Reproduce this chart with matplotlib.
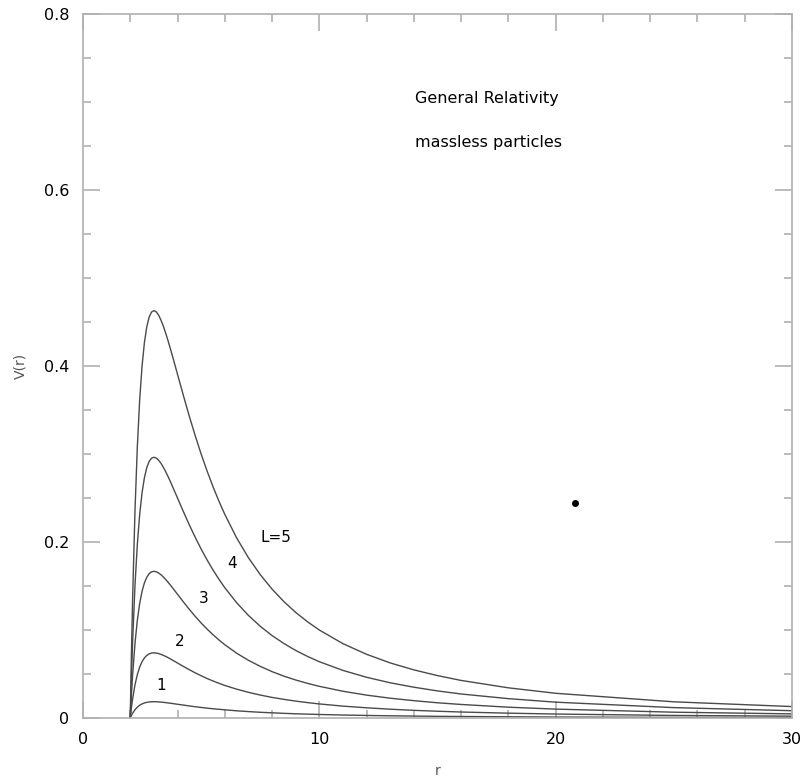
import matplotlib
matplotlib.use("Agg")
import matplotlib.pyplot as plt
from matplotlib.ticker import MultipleLocator

# radio r y potencial efectivo V(r), para cada L
r = [2.0, 2.05, 2.1, 2.2, 2.3, 2.4, 2.5, 2.6, 2.7, 2.8, 2.9, 3.0, 3.1, 3.2, 3.3,
     3.4, 3.5, 3.6, 3.7, 3.8, 4.0, 4.25, 4.5, 4.75, 5.0, 5.25, 5.5, 5.75, 6.0,
     6.5, 7.0, 7.5, 8.0, 8.5, 9.0, 9.5, 10, 11, 12, 13, 14, 15, 16, 18, 20, 25, 30]

v_L1 = [0, 0.0029, 0.0054, 0.0094, 0.0123, 0.0145, 0.0160, 0.0171, 0.0178, 0.0182,
        0.0185, 0.0185, 0.0185, 0.0183, 0.0181, 0.0178, 0.0175, 0.0171, 0.0168,
        0.0164, 0.0156, 0.0147, 0.0137, 0.0128, 0.0120, 0.0112, 0.0105, 0.0099,
        0.0093, 0.0082, 0.0073, 0.0065, 0.0059, 0.0053, 0.0048, 0.0044, 0.0040,
        0.0034, 0.0029, 0.0025, 0.0022, 0.0019, 0.0017, 0.0014, 0.0011, 0.0007, 0.0005]
v_L2 = [0, 0.0116, 0.0216, 0.0376, 0.0493, 0.0579, 0.0640, 0.0683, 0.0711, 0.0729,
        0.0738, 0.0741, 0.0738, 0.0732, 0.0723, 0.0712, 0.0700, 0.0686, 0.0671,
        0.0656, 0.0625, 0.0586, 0.0549, 0.0513, 0.0480, 0.0449, 0.0421, 0.0395,
        0.0370, 0.0328, 0.0292, 0.0261, 0.0234, 0.0212, 0.0192, 0.0175, 0.0160,
        0.0135, 0.0116, 0.0100, 0.0087, 0.0077, 0.0068, 0.0055, 0.0045, 0.0029, 0.0021]
v_L3 = [0, 0.0261, 0.0486, 0.0845, 0.1110, 0.1302, 0.1440, 0.1536, 0.1600, 0.1640,
        0.1661, 0.1667, 0.1662, 0.1648, 0.1628, 0.1603, 0.1574, 0.1543, 0.1510,
        0.1476, 0.1406, 0.1319, 0.1235, 0.1155, 0.1080, 0.1011, 0.0947, 0.0888,
        0.0833, 0.0737, 0.0656, 0.0587, 0.0527, 0.0476, 0.0432, 0.0394, 0.0360,
        0.0304, 0.0260, 0.0225, 0.0197, 0.0173, 0.0154, 0.0123, 0.0101, 0.0066, 0.0047]
v_L4 = [0, 0.0464, 0.0864, 0.1503, 0.1973, 0.2315, 0.2560, 0.2731, 0.2845, 0.2916,
        0.2952, 0.2963, 0.2954, 0.2930, 0.2894, 0.2850, 0.2799, 0.2744, 0.2685,
        0.2624, 0.2500, 0.2345, 0.2195, 0.2053, 0.1920, 0.1797, 0.1683, 0.1578,
        0.1481, 0.1311, 0.1166, 0.1043, 0.0937, 0.0847, 0.0768, 0.0700, 0.0640,
        0.0541, 0.0463, 0.0400, 0.0350, 0.0308, 0.0273, 0.0220, 0.0180, 0.0118, 0.0083]
v_L5 = [0, 0.0726, 0.1350, 0.2348, 0.3082, 0.3617, 0.4000, 0.4267, 0.4446, 0.4556,
        0.4613, 0.4630, 0.4616, 0.4578, 0.4522, 0.4453, 0.4373, 0.4287, 0.4195,
        0.4101, 0.3906, 0.3664, 0.3429, 0.3208, 0.3000, 0.2808, 0.2630, 0.2466,
        0.2315, 0.2048, 0.1822, 0.1630, 0.1465, 0.1323, 0.1200, 0.1094, 0.1000,
        0.0845, 0.0724, 0.0626, 0.0547, 0.0482, 0.0427, 0.0343, 0.0281, 0.0184, 0.0130]

curvas = [v_L1, v_L2, v_L3, v_L4, v_L5]
etiquetas = ["1", "2", "3", "4", "L=5"]
pos_etiquetas = [(3.1, 0.037), (3.9, 0.087), (4.9, 0.136), (6.1, 0.176), (7.5, 0.205)]

punto_r = [20.8]
punto_v = [0.244]

fig = plt.figure(figsize=(8.04, 7.79), dpi=100)
ax = fig.add_axes([0.1032, 0.0783, 0.8818, 0.9037])

gris = "#4a4a4a"
for v in curvas:
    ax.plot(r, v, color=gris, lw=1.0)

for txt, (x, y) in zip(etiquetas, pos_etiquetas):
    ax.text(x, y, txt, fontsize=11, ha="left", va="center", color="black")

ax.plot(punto_r, punto_v, "o", color="black", ms=4)

ax.text(14.05, 0.704, "General Relativity", fontsize=11.5, va="center")
ax.text(14.05, 0.654, "massless particles", fontsize=11.5, va="center")

ax.set_xlim(0, 30)
ax.set_ylim(0, 0.8)
ax.xaxis.set_major_locator(MultipleLocator(10))
ax.xaxis.set_minor_locator(MultipleLocator(2))
ax.yaxis.set_major_locator(MultipleLocator(0.2))
ax.yaxis.set_minor_locator(MultipleLocator(0.05))
ax.yaxis.set_major_formatter(plt.FuncFormatter(lambda y, p: "0" if y == 0 else f"{y:.1f}"))

for s in ax.spines.values():
    s.set_color("#b0b0b0")
    s.set_linewidth(1.2)
ax.tick_params(which="both", direction="in", top=True, right=True, colors="#b0b0b0",
               labelcolor="black", labelsize=11.5, pad=10)
ax.tick_params(which="major", length=12, width=1.2)
ax.tick_params(which="minor", length=6, width=1.2)

ax.set_xlabel("r", fontsize=10, color="#555555", labelpad=12)
ax.set_ylabel("V(r)", fontsize=10, color="#555555", labelpad=12)

plt.savefig("out.png", dpi=100)
